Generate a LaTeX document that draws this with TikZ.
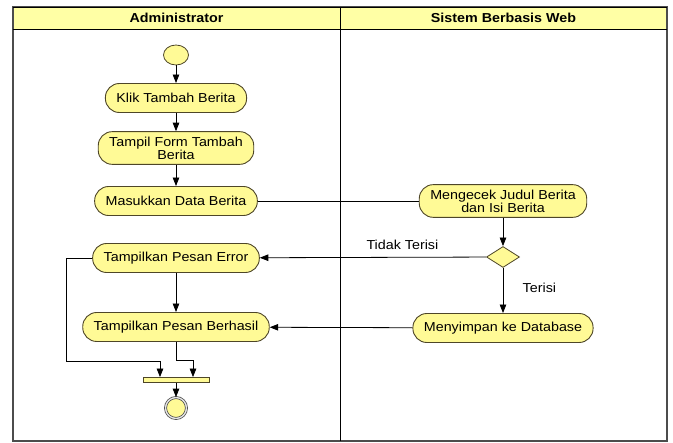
\documentclass[tikz,border=0pt]{standalone}
\usepackage{fontspec}
\setmainfont{Liberation Sans}[FakeStretch=1.1]
\usetikzlibrary{positioning,shapes.geometric,arrows.meta}
\definecolor{bg1}{RGB}{255,250,150}
\definecolor{bg2}{RGB}{255,255,165}
\definecolor{l1}{RGB}{78,70,40}

\begin{document}
\begin{tikzpicture}[
    x=1pt, y=-1pt,
    font=\fontsize{13}{11.5}\selectfont,
    node distance=40pt, on grid,
    act/.style={
        rounded corners=14pt, minimum height=29pt, inner xsep=11pt,
        inner ysep=5pt, align=center,
        fill=bg1, draw=l1, line width=0.9pt
    },
    dc/.style={
        diamond, minimum width=33pt, minimum height=21pt, inner sep=0pt,
        fill=bg1, draw=l1, line width=0.8pt
    },
    br/.style={
        minimum width=66pt, minimum height=5pt, inner sep=0pt,
        fill=bg1, draw=l1, line width=0.8pt
    },
    st/.style={
        ellipse, minimum width=25pt, minimum height=20pt, inner sep=0pt,
        fill=bg1, draw=l1, line width=0.8pt
    },
    en/.style={
        circle, minimum size=21pt, inner sep=0pt,
        fill=bg1, draw=gray!50!black, line width=0.7pt,
        double=white!80!gray, double distance=1.4pt
    },
    ln/.style={line width=0.8pt, black},
    ar/.style={ln, -{Triangle[length=8.5pt,width=6.5pt]}},
    hd/.style={font=\fontsize{13}{13}\selectfont\bfseries}
]
\useasboundingbox (0,0) rectangle (673,443);

% swimlanes
\fill [bg2] (13,7) rectangle (667,29);
\draw [gray!60!black, line width=1.4pt] (13,7) rectangle (667,441);
\draw [black, line width=0.8pt] (13,7) -- (667,7);
\draw [black, line width=0.8pt] (13,29) -- (667,29);
\draw [black, line width=1pt] (340,7) -- (340,441);
\node [hd] (hadm) at (176.5,18) {Administrator};
\node [hd] (hweb) at (503.5,18) {Sistem Berbasis Web};

% administrator
\node [st] (start) at (176,55) {};
\node [act,below=43pt of start] (klik) {Klik Tambah Berita};
\node [act,below=50pt of klik] (form) {Tampil Form Tambah\\Berita};
\node [act,below=53pt of form] (input) {Masukkan Data Berita};
\node [act,below=57pt of input] (error) {Tampilkan Pesan Error};
\node [act,below=69pt of error] (ok) {Tampilkan Pesan Berhasil};
\node [br,below=53pt of ok] (join) {};
\node [en,below=28pt of join] (stop) {};

% sistem
\node [act,right=327pt of input] (cek) {Mengecek Judul Berita\\dan Isi Berita};
\node [dc,below=56pt of cek] (cond) {};
\node [act,below=71pt of cond] (simpan) {Menyimpan ke Database};

\draw [ar] (start) -- (klik);
\draw [ar] (klik) -- (form);
\draw [ar] (form) -- (input);
\draw [ln] (input) -- (cek);
\draw [ar] (cek) -- (cond);
\draw [ar] (cond) -- node [pos=0.37, above=4pt] (tidak) {Tidak Terisi} (error);
\draw [ar] (cond) -- node [pos=0.44, right=16pt] (isi) {Terisi} (simpan);
\draw [ar] (simpan) -- (ok);
\draw [ar] (error) -- (ok);

\draw [ar] (error.west) -| (66,361) -| ([xshift=-16pt]join.north);
\draw [ar] (ok.south) -- ++(0,18) -| ([xshift=17pt]join.north);
\draw [ar] (join) -- (stop);

\end{tikzpicture}
\end{document}
